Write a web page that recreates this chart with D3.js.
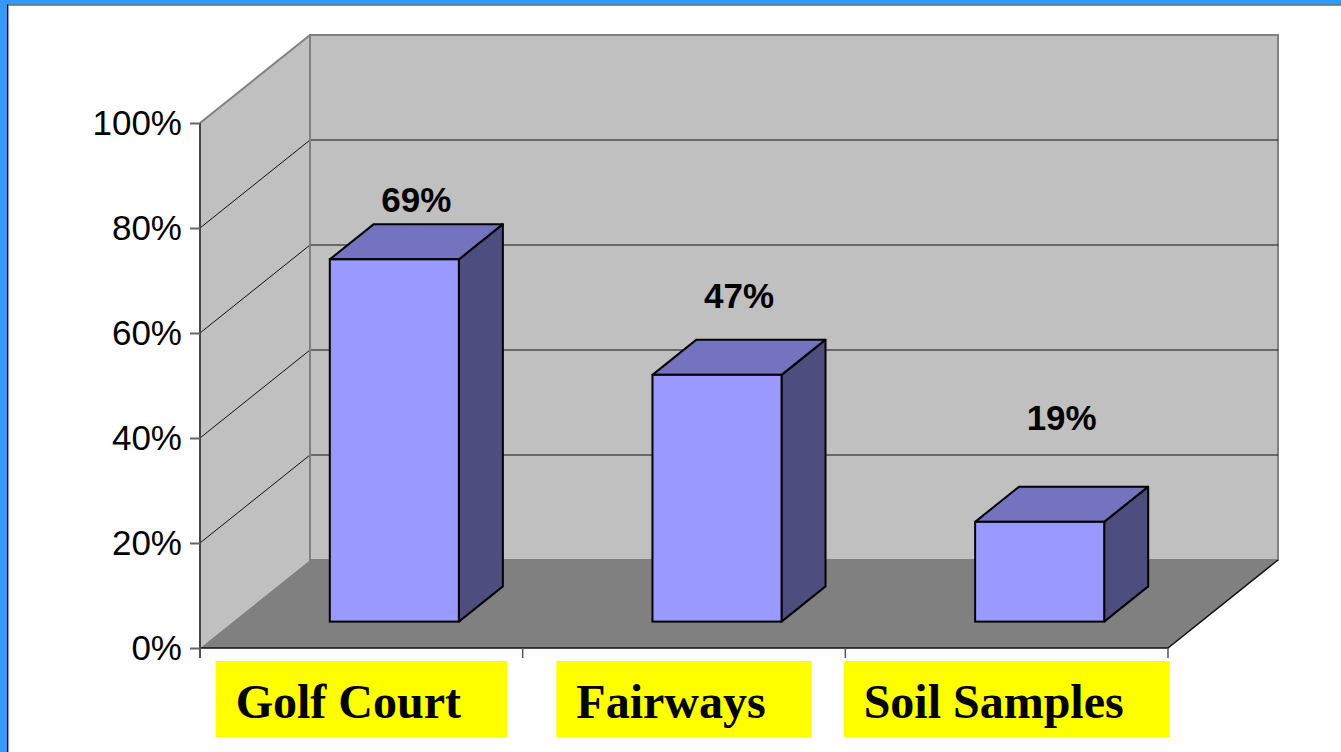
<!DOCTYPE html>
<html><head><meta charset="utf-8">
<script src="https://cdn.jsdelivr.net/npm/d3@7"></script>
<style>body{margin:0;background:#fff;overflow:hidden}</style>
</head><body><svg id="c" width="1341" height="752"></svg>
<script>
const categories = ["Golf Court", "Fairways", "Soil Samples"];
const values = [0.69, 0.47, 0.19];
const valueLabels = ["69%", "47%", "19%"];
const yTicks = [0, 0.2, 0.4, 0.6, 0.8, 1.0];

const svg = d3.select("#c");
const W = 1341, H = 752;
// frame
svg.append("rect").attr("x",0).attr("y",0).attr("width",W).attr("height",H).attr("fill","#fff");
svg.append("rect").attr("x",0).attr("y",0).attr("width",W).attr("height",4.5).attr("fill","#3399FF");
svg.append("rect").attr("x",0).attr("y",0).attr("width",7).attr("height",H).attr("fill","#3399FF");
svg.append("rect").attr("x",7).attr("y",4.5).attr("width",W).attr("height",1).attr("fill","#1b2733");
svg.append("rect").attr("x",7).attr("y",4.5).attr("width",1.3).attr("height",H).attr("fill","#000");
svg.append("rect").attr("x",8.3).attr("y",5.5).attr("width",0.8).attr("height",H).attr("fill","#999");

const x = d3.scaleBand().domain(categories).range([200,1168]).padding(0);
const y = d3.scaleLinear().domain([0,1]).range([648,123]);
const DX = 110, DY = -88; // full depth offset
const bw = x.bandwidth();
const line = d3.line();

const g = svg.append("g");
// side wall
g.append("path").attr("d", line([[200,y(1)],[200+DX,y(1)+DY],[200+DX,y(0)+DY],[200,y(0)]]))
 .attr("fill","#C0C0C0").attr("stroke","none");
// back wall
g.append("rect").attr("x",200+DX).attr("y",y(1)+DY).attr("width",x.range()[1]-200).attr("height",y(0)-y(1))
 .attr("fill","#C0C0C0").attr("stroke","#808080").attr("stroke-width",2);
// floor
g.append("path").attr("d", line([[200,y(0)],[1168,y(0)],[1168+DX,y(0)+DY],[200+DX,y(0)+DY]])+"Z")
 .attr("fill","#808080");
// floor front & right edges
g.append("path").attr("d", line([[200,y(0)],[1168,y(0)],[1168+DX,y(0)+DY]]))
 .attr("fill","none").attr("stroke","#111").attr("stroke-width",1.5);
// side wall top edge
g.append("path").attr("d", line([[200,y(1)],[200+DX,y(1)+DY]])).attr("stroke","#808080").attr("stroke-width",2).attr("fill","none");
// gridlines
yTicks.filter(t=>t>0 && t<1).forEach(t=>{
  g.append("path").attr("d", line([[200,y(t)],[200+DX,y(t)+DY],[1168+DX,y(t)+DY]]))
   .attr("fill","none").attr("stroke","#111").attr("stroke-width",1);
});
// back wall left edge
g.append("path").attr("d", line([[200+DX,y(1)+DY],[200+DX,y(0)+DY]])).attr("stroke","#808080").attr("stroke-width",2);

// bars
const d0 = 0.3, d1 = 0.7;
const bars = g.selectAll(".bar").data(categories.map((c,i)=>({c,v:values[i],l:valueLabels[i]}))).join("g");
bars.each(function(d){
  const s = d3.select(this);
  const fx0 = x(d.c) + bw*0.3 + DX*d0, fx1 = fx0 + bw*0.4;
  const fyb = y(0) + DY*d0, fyt = y(d.v) + DY*d0;
  const ox = DX*(d1-d0), oy = DY*(d1-d0);
  s.append("path").attr("d", line([[fx1,fyb],[fx1+ox,fyb+oy],[fx1+ox,fyt+oy],[fx1,fyt]])+"Z")
   .attr("fill","#4D4D80").attr("stroke","#000").attr("stroke-width",2).attr("stroke-linejoin","round");
  s.append("path").attr("d", line([[fx0,fyt],[fx0+ox,fyt+oy],[fx1+ox,fyt+oy],[fx1,fyt]])+"Z")
   .attr("fill","#7373BF").attr("stroke","#000").attr("stroke-width",2).attr("stroke-linejoin","round");
  s.append("rect").attr("x",fx0).attr("y",fyt).attr("width",fx1-fx0).attr("height",fyb-fyt)
   .attr("fill","#9999FF").attr("stroke","#000").attr("stroke-width",2);
});

// value labels
const yLab = d3.scaleLinear().domain([0,1]).range([500,65]);
bars.append("text").attr("x",d=>x(d.c)+bw/2+DX*d0+22).attr("y",d=>yLab(d.v)).attr("dy","0.36em")
 .attr("text-anchor","middle").attr("font-family","Arial, 'Liberation Sans', sans-serif")
 .attr("font-weight","bold").attr("font-size",35).attr("fill","#000").text(d=>d.l);

// y axis
const ax = svg.append("g").attr("transform","translate(200,0)")
 .call(d3.axisLeft(y).tickValues(yTicks).tickFormat(d3.format(".0%")).tickSize(10).tickSizeOuter(0).tickPadding(8));
ax.select(".domain").attr("stroke","#444").attr("stroke-width",2).attr("d","M0,"+y(1)+"V"+(y(0)+10));
ax.selectAll(".tick line").attr("stroke","#666").attr("stroke-width",2);
ax.selectAll(".tick text").attr("font-family","Arial, 'Liberation Sans', sans-serif").attr("font-size",35).attr("fill","#000");

// category ticks
const edges = categories.map(c=>x(c)).concat([x.range()[1]]);
svg.selectAll(".ctick").data(edges).join("line").attr("x1",d=>d).attr("x2",d=>d)
 .attr("y1",y(0)).attr("y2",y(0)+10).attr("stroke","#555").attr("stroke-width",1.5);

// category labels
const cl = svg.selectAll(".cat").data(categories).join("g");
cl.each(function(c){
  const s = d3.select(this);
  const t = s.append("text").attr("font-family","'Times New Roman', 'Liberation Serif', serif")
   .attr("font-weight","bold").attr("font-size",48).attr("fill","#000").text(c);
  const tw = t.node().getComputedTextLength();
  const boxW = tw + 66, bx = x(c)+bw/2 - boxW/2;
  s.insert("rect","text").attr("x",bx).attr("y",661).attr("width",boxW).attr("height",76).attr("fill","#FFFF00");
  t.attr("x",bx+20).attr("y",718);
});
</script></body></html>
